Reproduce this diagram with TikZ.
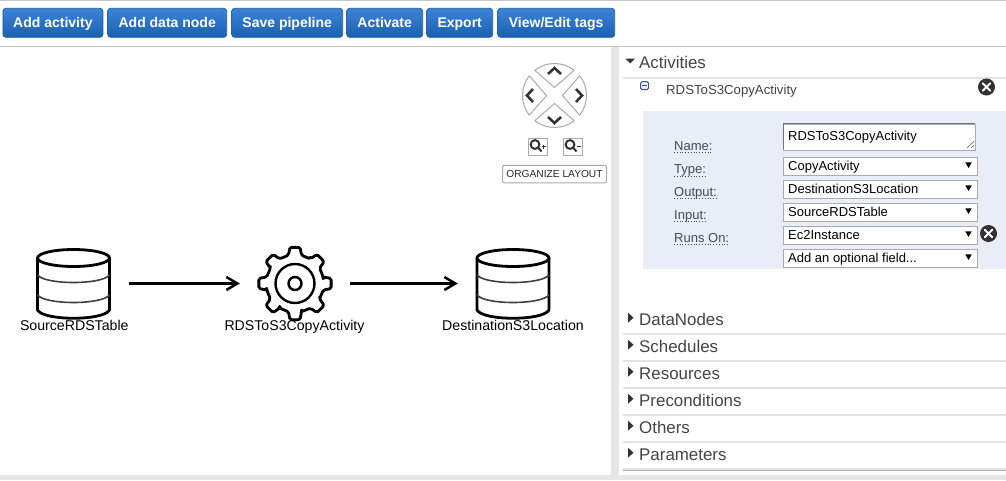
\documentclass[tikz,border=0pt]{standalone}
\usepackage{fontspec}
\setmainfont{Liberation Sans}
\usetikzlibrary{arrows.meta,calc}
\definecolor{gstrip}{HTML}{E6E6E6}
\definecolor{sepline}{HTML}{E2E2E2}
\definecolor{paneltxt}{HTML}{444444}
\definecolor{labeltxt}{HTML}{444B55}
\definecolor{panelblue}{HTML}{E9EDF8}
\definecolor{fieldline}{HTML}{ABABAB}
\definecolor{btntop}{HTML}{3C84D6}
\definecolor{btnbot}{HTML}{1A60B2}
\definecolor{btnline}{HTML}{1C5FA8}
\definecolor{navline}{HTML}{AAAAAA}
\definecolor{darkicon}{HTML}{333333}
\definecolor{minusblue}{HTML}{3F4F8F}
\tikzset{
  toolbtn/.style={draw=btnline,line width=.8pt,rounded corners=3pt,top color=btntop,bottom color=btnbot,
    text=white,font=\fontsize{14}{16}\selectfont\bfseries,inner sep=0pt,minimum height=29pt,anchor=west,
    text height=11.4pt,text depth=2pt},
  heading/.style={anchor=base west,inner sep=0pt,text=paneltxt,font=\fontsize{16.9}{18}\selectfont},
  caption/.style={anchor=base,inner sep=0pt,text=black,font=\fontsize{14.15}{16}\selectfont},
  fieldbox/.style={draw=fieldline,line width=1pt,fill=white,anchor=north west,inner sep=0pt,
    minimum width=194pt,minimum height=18pt},
  fieldtxt/.style={anchor=base west,inner sep=0pt,text=black,font=\fontsize{13}{15}\selectfont},
  fieldlabel/.style={anchor=base west,inner sep=0pt,text=labeltxt,font=\fontsize{13}{15}\selectfont},
  dotrule/.style={line width=.8pt,dotted,black!70},
  sep/.style={draw=sepline,line width=2pt},
  flow/.style={line width=2.7pt,-{Straight Barb[length=11pt,width=13pt,line width=2.5pt]}},
  iconline/.style={line width=2.8pt,line join=round},
  thinband/.style={line width=1.6pt,draw=black!75},
  navsector/.style={draw=navline,line width=1pt,fill=white,line join=round},
  chevron/.style={draw=darkicon,line width=2.6pt,line join=miter},
  anchorbox/.style={inner sep=0pt,minimum width=110pt,minimum height=68pt},
  zoombox/.style={draw=navline,line width=1pt,fill=white,anchor=north west,minimum width=19pt,minimum height=17pt,inner sep=0pt},
  closeicon/.style={circle,fill=darkicon,minimum size=17pt,inner sep=0pt},
}
\newcommand{\cylinderat}[2]{%
  \begin{scope}[shift={(#1,#2)}]
    \draw[iconline,fill=white] (-36,-26) -- (-36,26) .. controls (-30,37) and (30,37) .. (36,26) -- (36,-26);
    \draw[thinband] (-36,-9) .. controls (-28,1) and (28,1) .. (36,-9);
    \draw[thinband] (-36,11) .. controls (-28,21) and (28,21) .. (36,11);
    \draw[iconline,fill=white] (0,-26) ellipse [x radius=36,y radius=8.5];
  \end{scope}}
\newcommand{\crossicon}[1]{%
  \draw[white,line width=2pt,line cap=round] ($(#1)+(-3.6,-3.6)$) -- ($(#1)+(3.6,3.6)$);
  \draw[white,line width=2pt,line cap=round] ($(#1)+(-3.6,3.6)$) -- ($(#1)+(3.6,-3.6)$);}
\newcommand{\selectarrow}[1]{%
  \fill[black] (968.5-3.2,#1-2.6) -- (968.5+3.2,#1-2.6) -- (968.5,#1+3) -- cycle;}
\newcommand{\sidearrow}[1]{%
  \fill[darkicon] (628,#1-5) -- (633.5,#1) -- (628,#1+5) -- cycle;}
\begin{document}
\begin{tikzpicture}[x=1pt,y=-1pt]
\useasboundingbox (0,0) rectangle (1006,480);
\fill[white] (0,0) rectangle (1006,480);
% frame
\draw[draw=black!22,line width=1.4pt] (0,.7) -- (1006,.7);
\draw[draw=black!22,line width=1.2pt] (0,46.5) -- (1006,46.5);
\fill[gstrip] (611,47) rectangle (619,480);
\fill[gstrip] (0,475) rectangle (1006,480);
% toolbar
\node[toolbtn,minimum width=100pt] (b1) at (2.5,22.8) {Add activity};
\node[toolbtn,minimum width=119pt] (b2) at (107.3,22.8) {Add data node};
\node[toolbtn,minimum width=111pt] (b3) at (231.3,22.8) {Save pipeline};
\node[toolbtn,minimum width=76pt] (b4) at (346.3,22.8) {Activate};
\node[toolbtn,minimum width=66pt] (b5) at (426.3,22.8) {Export};
\node[toolbtn,minimum width=117pt] (b6) at (497.3,22.8) {View/Edit tags};
% diagram
\cylinderat{73.5}{284}
\cylinderat{513}{284}
\node[anchorbox] (src) at (73.5,283.5) {};
\node[anchorbox] (dst) at (513,283.5) {};
\node[anchorbox] (gear) at (295,283.5) {};
\begin{scope}[shift={(295,283.5)}]
  \draw[iconline,rounded corners=1.6pt] (-9:28.5)
    \foreach \a in {0,45,...,315} {
      -- (\a-13:29) -- (\a-8:36.5) -- (\a+8:36.5) -- (\a+13:29) -- (\a+45-13:29)
    } -- cycle;
  \draw[line width=2.4pt] (0,0) circle (19.5);
  \draw[line width=2.4pt] (0,0) circle (6.5);
\end{scope}
\draw[flow] (src) -- (gear);
\draw[flow] (gear) -- (dst);
\node[caption] (lsrc) at (74.3,330.5) {SourceRDSTable};
\node[caption] (lgear) at (294.5,330.5) {RDSToS3CopyActivity};
\node[caption] (ldst) at (513,330.5) {DestinationS3Location};
% navigator
\begin{scope}[shift={(554.5,95.5)}]
  \foreach \a in {0,90,180,270} {
    \draw[navsector,rotate=\a] (8,0) -- (-38:32) arc[start angle=-38,end angle=38,radius=32] -- cycle;
    \draw[chevron,rotate=\a] (21.5,-6.5) -- (27.5,0) -- (21.5,6.5);
  }
\end{scope}
\node[zoombox] (zin) at (528,138) {};
\node[zoombox] (zout) at (563,138) {};
\draw[darkicon,line width=2pt] (535,144.5) circle (4.4) (538,147.5) -- (541.5,151.5);
\draw[darkicon,line width=2pt] (570,144.5) circle (4.4) (573,147.5) -- (576.5,151.5);
\draw[darkicon,line width=.8pt] (541.5,146.5) -- (545.5,146.5) (543.5,144.5) -- (543.5,148.5);
\draw[darkicon,line width=.8pt] (576.5,146.5) -- (580.5,146.5);
\node[draw=navline,line width=1pt,rounded corners=2pt,fill=white,inner sep=0pt,minimum width=104pt,minimum height=17.5pt,
  text=black!85,font=\fontsize{10.2}{12}\selectfont] (org) at (554.5,174) {ORGANIZE LAYOUT};
% activities
\fill[darkicon] (625.5,58.5) -- (635,58.5) -- (630.2,63.5) -- cycle;
\node[heading] (hact) at (639,68) {Activities};
\draw[sep] (623,77.5) -- (1006,77.5);
\node[draw=minusblue,line width=1pt,fill=panelblue,rounded corners=1.5pt,minimum width=8pt,minimum height=8pt,inner sep=0pt] (minus) at (644.5,85.7) {};
\draw[minusblue,line width=1.2pt] (642,85.7) -- (647,85.7);
\node[anchor=base west,inner sep=0pt,text=paneltxt,font=\fontsize{13.2}{15}\selectfont] (aname) at (666,94) {RDSToS3CopyActivity};
\node[closeicon] (c1) at (986.5,87) {};
\crossicon{c1}
\fill[panelblue] (643,111) rectangle (1006,269);
\node[fieldbox,minimum width=192pt,minimum height=26pt] (fname) at (783,123.5) {};
\draw[black!55,line width=1pt] (783,149) |- (975,123.5);
\draw[black!55,line width=.7pt] (967,148) -- (974,141) (971,148) -- (974,145);
\node[fieldtxt] (tname) at (788,140) {RDSToS3CopyActivity};
\node[fieldbox] (ftype) at (783,156.5) {};
\node[fieldbox] (fout) at (783,179.5) {};
\node[fieldbox] (fin) at (783,202.5) {};
\node[fieldbox] (frun) at (783,225.5) {};
\node[fieldbox] (fadd) at (783,248.5) {};
\node[fieldtxt] (ttype) at (788,170) {CopyActivity};
\node[fieldtxt] (tout) at (788,193) {DestinationS3Location};
\node[fieldtxt] (tin) at (788,216) {SourceRDSTable};
\node[fieldtxt] (trun) at (788,239) {Ec2Instance};
\node[fieldtxt] (tadd) at (788,262) {Add an optional field...};
\selectarrow{165}
\selectarrow{188}
\selectarrow{211}
\selectarrow{234}
\selectarrow{257}
\node[closeicon] (c2) at (988.5,233.5) {};
\crossicon{c2}
\node[fieldlabel] (lname) at (674,150) {Name:};
\node[fieldlabel] (ltype) at (674,173.5) {Type:};
\node[fieldlabel] (lout) at (674,196) {Output:};
\node[fieldlabel] (lin) at (674,219) {Input:};
\node[fieldlabel] (lrun) at (674,242) {Runs On:};
\draw[dotrule] (lname.base west) ++(0,2.5) -- ++(38,0);
\draw[dotrule] (ltype.base west) ++(0,2.5) -- ++(33,0);
\draw[dotrule] (lout.base west) ++(0,2.5) -- ++(43,0);
\draw[dotrule] (lin.base west) ++(0,2.5) -- ++(33,0);
\draw[dotrule] (lrun.base west) ++(0,2.5) -- ++(55,0);
% collapsed sections
\foreach \nm/\ty/\ly in {DataNodes/325.2/334,Schedules/352.2/361,Resources/379.2/388,Preconditions/406.2/415,Others/433.2/442,Parameters/460.2/469} {
  \node[heading] at (639,\ty) {\nm};
  \sidearrow{\ty-7.5}
  \draw[sep] (623,\ly) -- (1006,\ly);
}
\draw[black!30,line width=1pt] (623,470.5) -- (1006,470.5);
\end{tikzpicture}
\end{document}
